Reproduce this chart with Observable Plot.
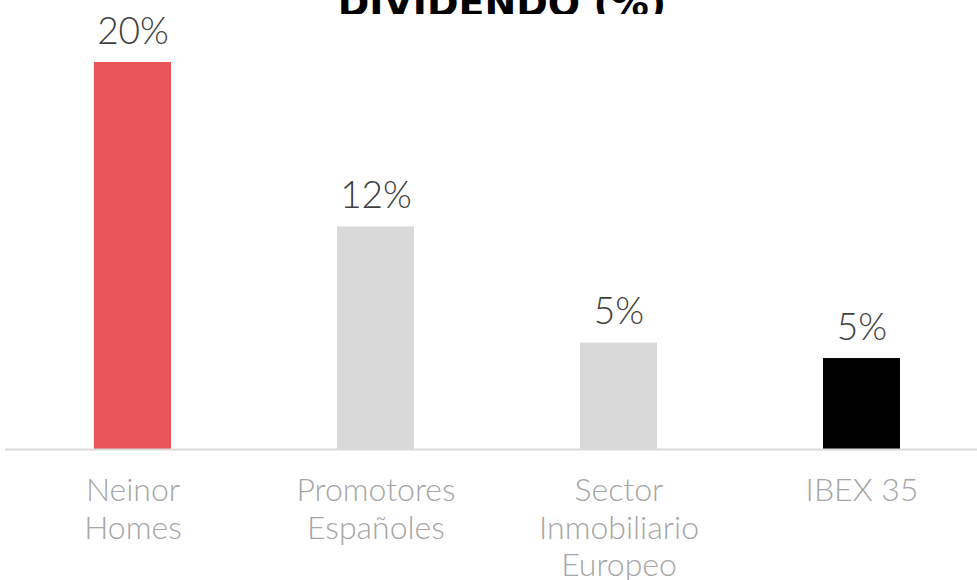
<!DOCTYPE html>
<html>
<head>
<meta charset="utf-8">
<script src="https://cdn.jsdelivr.net/npm/d3@7"></script>
<script src="https://cdn.jsdelivr.net/npm/@observablehq/plot@0.6"></script>
<style>
  html, body { margin: 0; padding: 0; background: #fff; overflow: hidden; }
  #title { height: 14px; overflow: hidden; position: relative; width: 977px; }
  #title span { position: absolute; left: 0; width: 977px; text-align: center; bottom: -8px; padding-left: 27px; box-sizing: border-box;
    font-family: "DejaVu Sans", sans-serif; font-weight: bold; font-size: 38px; color: #000; line-height: 1; }
  #chart svg { display: block; overflow: visible; }
</style>
</head>
<body>
<div id="title"><span>DIVIDENDO (%)</span></div>
<div id="chart"></div>
<script>
const categories = ["Neinor Homes", "Promotores Españoles", "Sector Inmobiliario Europeo", "IBEX 35"];
const axisLabels = ["Neinor\nHomes", "Promotores\nEspañoles", "Sector\nInmobiliario\nEuropeo", "IBEX 35"];
const values = [20, 11.5, 5.5, 4.7];
const valueLabels = ["20%", "12%", "5%", "5%"];
const colors = ["#E9535A", "#D9D9D9", "#D9D9D9", "#000000"];

const data = categories.map((c, i) => ({
  category: c, value: values[i], label: valueLabels[i], axis: axisLabels[i], color: colors[i]
}));

const font = "Lato, 'Open Sans', sans-serif";

const chart = Plot.plot({
  width: 977,
  height: 566,
  marginLeft: 5,
  marginRight: 0,
  marginTop: 0,
  marginBottom: 0,
  style: { fontFamily: font, background: "transparent", overflow: "visible" },
  x: { domain: categories, range: [11, 984], paddingInner: 0.683, paddingOuter: 0.3415, align: 0.5, axis: null },
  y: { domain: [0, 20], range: [435, 48], axis: null },
  marks: [
    Plot.barY(data, { x: "category", y: "value", fill: "color" }),
    Plot.ruleY([0], { stroke: "#D9D9D9", strokeWidth: 2 }),
    Plot.text(data, { x: "category", y: "value", text: "label", dy: -19, lineAnchor: "bottom",
      fontSize: 37, fontWeight: 300, fill: "#404040" }),
    Plot.text(data, { x: "category", y: () => 0, text: "axis", dy: 25, lineAnchor: "top",
      fontSize: 32, fontWeight: 300, fill: "#A6A6A6", lineHeight: 1.17 })
  ]
});
document.getElementById("chart").appendChild(chart);
</script>
</body>
</html>
